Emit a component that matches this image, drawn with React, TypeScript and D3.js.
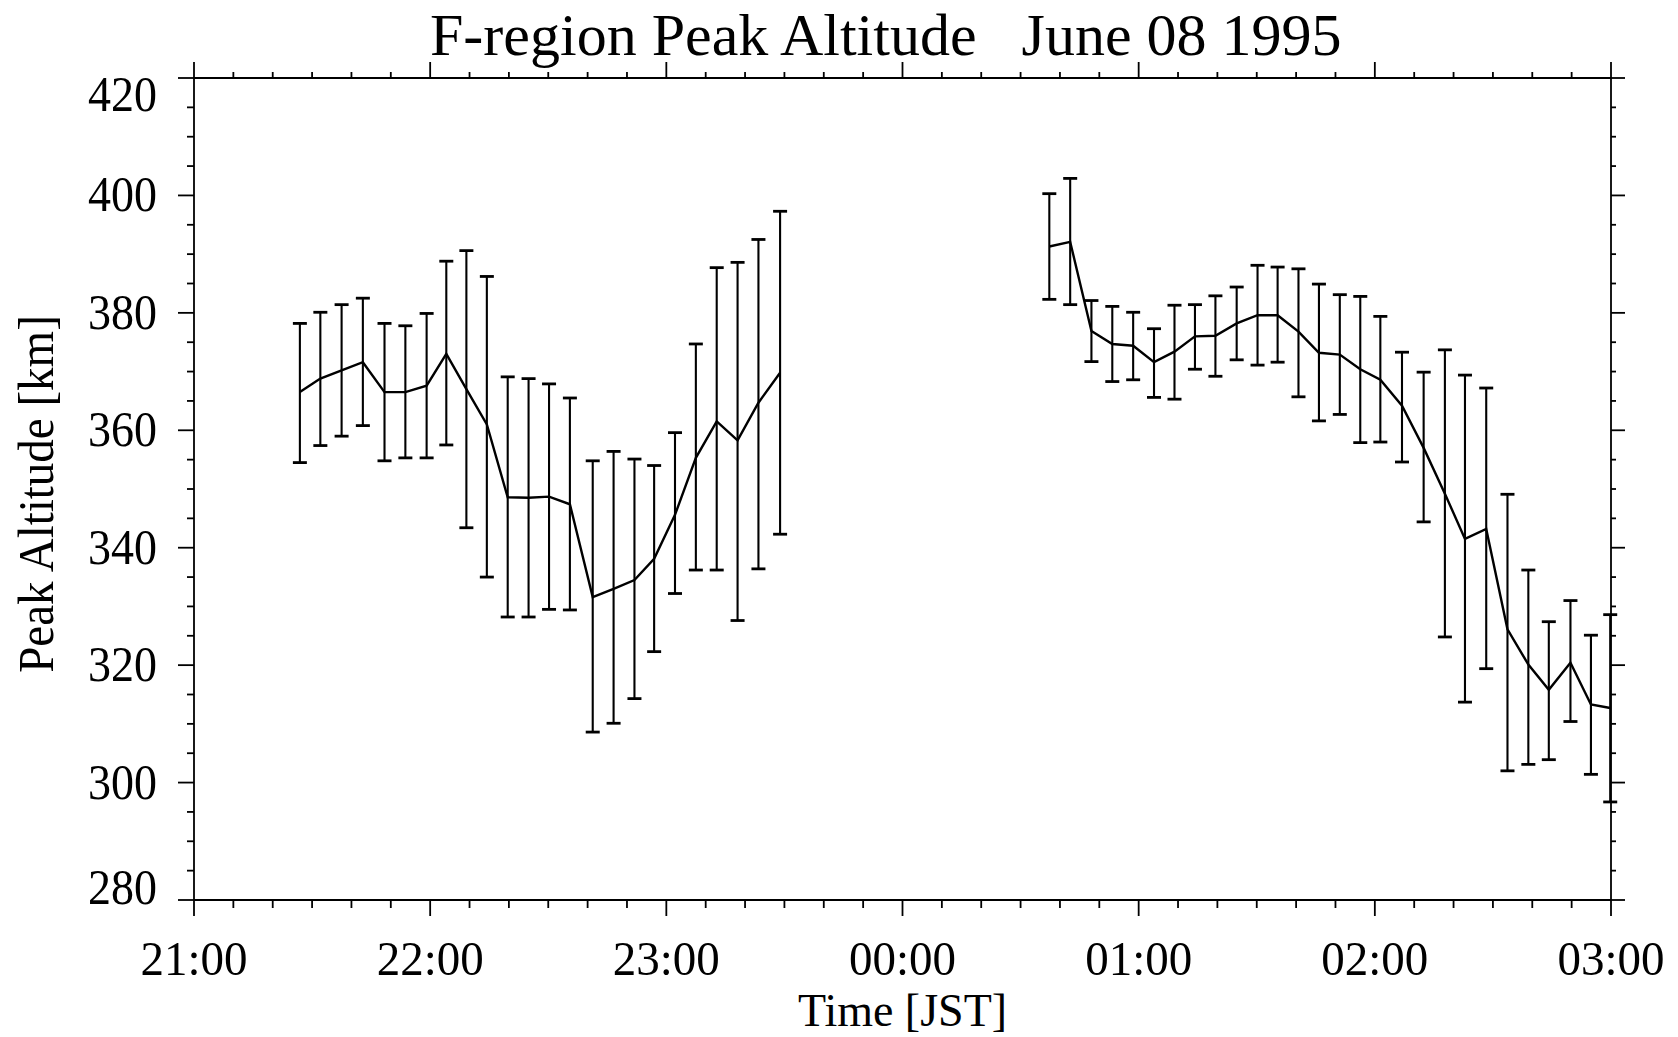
import React from "react";
import * as d3 from "d3";

// ---- data (minutes after 21:00 JST, altitude in km) ----
const leftTime = [26.9, 32.1, 37.5, 42.9, 48.4, 53.7, 59.1, 64.1, 69.2, 74.4, 79.7, 85.0, 90.2, 95.5, 101.3, 106.6, 111.9, 116.9, 122.2, 127.5, 132.8, 138.1, 143.4, 148.9];
const leftAlt = [366.5, 368.8, 370.2, 371.6, 366.5, 366.5, 367.6, 373.0, 367.0, 361.0, 348.6, 348.5, 348.7, 347.4, 331.6, 333.0, 334.5, 338.1, 345.6, 355.3, 361.5, 358.3, 364.7, 369.8];
const leftHi = [378.2, 380.1, 381.4, 382.5, 378.2, 377.8, 379.9, 388.8, 390.6, 386.2, 369.1, 368.8, 367.9, 365.5, 354.8, 356.4, 355.1, 354.0, 359.6, 374.7, 387.7, 388.6, 392.5, 397.3];
const leftLo = [354.5, 357.4, 359.0, 360.8, 354.8, 355.3, 355.3, 357.5, 343.4, 335.0, 328.2, 328.2, 329.5, 329.4, 308.6, 310.1, 314.3, 322.3, 332.2, 336.2, 336.2, 327.6, 336.4, 342.3];

const rightTime = [217.3, 222.6, 228.0, 233.3, 238.6, 243.9, 249.1, 254.3, 259.5, 264.9, 270.2, 275.3, 280.6, 285.8, 291.1, 296.3, 301.4, 306.9, 312.4, 317.8, 322.9, 328.3, 333.7, 339.0, 344.2, 349.7, 354.9, 359.8];
const rightAlt = [391.3, 392.1, 376.9, 374.7, 374.4, 371.6, 373.4, 376.0, 376.1, 378.2, 379.6, 379.6, 376.8, 373.2, 372.9, 370.4, 368.6, 364.2, 357.0, 349.2, 341.5, 343.2, 326.1, 320.1, 315.8, 320.4, 313.3, 312.7];
const rightHi = [400.3, 402.9, 382.1, 381.1, 380.1, 377.3, 381.3, 381.4, 382.9, 384.4, 388.1, 387.8, 387.5, 384.9, 383.1, 382.8, 379.4, 373.3, 369.9, 373.7, 369.4, 367.2, 349.1, 336.2, 327.4, 331.0, 325.1, 328.6];
const rightLo = [382.3, 381.4, 371.7, 368.3, 368.6, 365.6, 365.3, 370.4, 369.2, 372.0, 371.1, 371.6, 365.7, 361.6, 362.7, 357.9, 358.0, 354.6, 344.4, 324.8, 313.7, 319.4, 302.0, 303.1, 303.9, 310.4, 301.4, 296.7];

const hourTicks = [0, 60, 120, 180, 240, 300, 360];
const hourLabels = ["21:00", "22:00", "23:00", "00:00", "01:00", "02:00", "03:00"];
const altTicks = [280, 300, 320, 340, 360, 380, 400, 420];

const titleText = "F-region Peak Altitude\u00a0\u00a0\u00a0June 08 1995";
const xTitle = "Time [JST]";
const yTitle = "Peak Altitude [km]";

const W = 1678;
const H = 1037;
const FONT = "'Liberation Serif', 'Times New Roman', serif";

function T(props: {
  x: number;
  y: number;
  size: number;
  anchor?: string;
  rotate?: number;
  stretch?: number;
  children: React.ReactNode;
}) {
  const { x, y, size, anchor = "start", rotate = 0, stretch = 1, children } = props;
  const tr =
    `translate(${x},${y})` +
    (rotate ? ` rotate(${rotate})` : "") +
    (stretch !== 1 ? ` scale(1,${stretch})` : "");
  return (
    <text transform={tr} fontSize={size} textAnchor={anchor} fill="#000">
      {children}
    </text>
  );
}

export default function App() {
  const x = d3.scaleLinear().domain([0, 360]).range([194, 1611]);
  const y = d3.scaleLinear().domain([280, 420]).range([900, 78]);
  const [X0, X1] = x.range();
  const [Y0, Y1] = y.range();

  const minorX = d3.range(0, 361, 10).filter((m) => m % 60 !== 0);
  const minorY = d3.range(280, 421, 5).filter((v) => v % 20 !== 0);

  const makePath = (t: number[], v: number[]) =>
    d3
      .line<number>()
      .x((_, i) => x(t[i]))
      .y((d) => y(d))(v) || "";

  const series = [
    { t: leftTime, v: leftAlt, hi: leftHi, lo: leftLo },
    { t: rightTime, v: rightAlt, hi: rightHi, lo: rightLo },
  ];

  const axisStroke = { stroke: "#000", strokeWidth: 1.8 };
  const cap = 7;

  return (
    <svg
      width={W}
      height={H}
      style={{ position: "absolute", left: 0, top: 0, background: "#fff" }}
      fontFamily={FONT}
    >
      <rect x={0} y={0} width={W} height={H} fill="#fff" />
      {/* frame */}
      <line x1={X0} x2={X1} y1={Y0} y2={Y0} {...axisStroke} />
      <line x1={X0} x2={X1} y1={Y1} y2={Y1} {...axisStroke} />
      <line x1={X0} x2={X0} y1={Y0} y2={Y1} {...axisStroke} />
      <line x1={X1} x2={X1} y1={Y0} y2={Y1} {...axisStroke} />

      {/* x ticks bottom & top */}
      {hourTicks.map((m) => (
        <g key={"hx" + m}>
          <line x1={x(m)} x2={x(m)} y1={Y0} y2={Y0 + 16} {...axisStroke} />
          <line x1={x(m)} x2={x(m)} y1={Y1} y2={Y1 - 16} {...axisStroke} />
        </g>
      ))}
      {minorX.map((m) => (
        <g key={"mx" + m}>
          <line x1={x(m)} x2={x(m)} y1={Y0} y2={Y0 + 8} {...axisStroke} />
          <line x1={x(m)} x2={x(m)} y1={Y1} y2={Y1 - 6} {...axisStroke} />
        </g>
      ))}

      {/* y ticks left & right */}
      {altTicks.map((v) => (
        <g key={"my" + v}>
          <line x1={X0} x2={X0 - 16} y1={y(v)} y2={y(v)} {...axisStroke} />
          <line x1={X1} x2={X1 + 14} y1={y(v)} y2={y(v)} {...axisStroke} />
        </g>
      ))}
      {minorY.map((v) => (
        <g key={"ny" + v}>
          <line x1={X0} x2={X0 - 7} y1={y(v)} y2={y(v)} {...axisStroke} />
          <line x1={X1} x2={X1 + 5} y1={y(v)} y2={y(v)} {...axisStroke} />
        </g>
      ))}

      {/* tick labels */}
      {hourTicks.map((m, i) => (
        <T key={"lx" + m} x={x(m)} y={975} size={47} anchor="middle" stretch={1.05}>
          {hourLabels[i]}
        </T>
      ))}
      {altTicks.map((v, i) => {
        const off = i === altTicks.length - 1 ? 17 : i === 0 ? -12 : 0;
        return (
          <T key={"ly" + v} x={157} y={y(v) + off + 16} size={46} anchor="end" stretch={1.1}>
            {v}
          </T>
        );
      })}

      {/* titles */}
      <T x={430} y={55} size={60}>
        {titleText}
      </T>
      <T x={(X0 + X1) / 2} y={1026} size={46} anchor="middle">
        {xTitle}
      </T>
      <T x={53} y={(Y0 + Y1) / 2 + 5} size={47} anchor="middle" rotate={-90} stretch={1.08}>
        {yTitle}
      </T>

      {/* data */}
      {series.map((s, k) => (
        <g key={"s" + k}>
          {s.t.map((t, i) => (
            <g key={i} stroke="#000">
              <line x1={x(t)} x2={x(t)} y1={y(s.hi[i])} y2={y(s.lo[i])} strokeWidth={2.1} />
              <line x1={x(t) - cap} x2={x(t) + cap} y1={y(s.hi[i])} y2={y(s.hi[i])} strokeWidth={2.8} />
              <line x1={x(t) - cap} x2={x(t) + cap} y1={y(s.lo[i])} y2={y(s.lo[i])} strokeWidth={2.8} />
            </g>
          ))}
          <path d={makePath(s.t, s.v)} fill="none" stroke="#000" strokeWidth={2.4} strokeLinejoin="miter" />
        </g>
      ))}
    </svg>
  );
}
